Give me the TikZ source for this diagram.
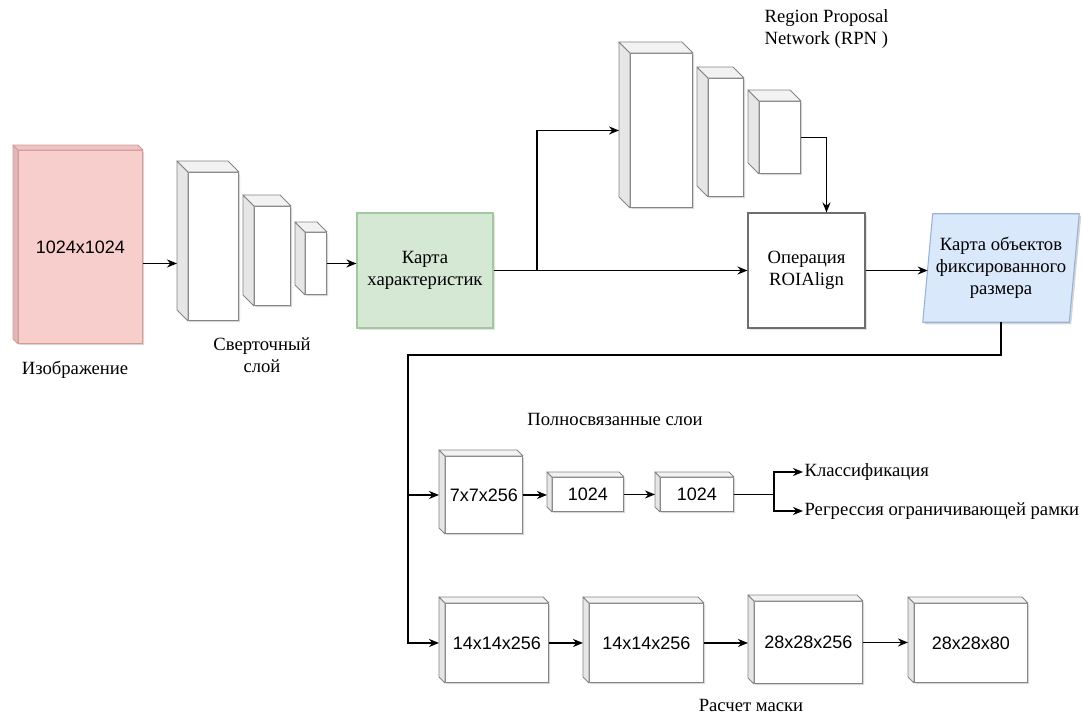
\documentclass[tikz,border=0pt]{standalone}
\usepackage{fontspec}
\setmainfont{Liberation Serif}
\newfontfamily\sansnum{Liberation Sans}
\usetikzlibrary{arrows.meta,shadows,calc,backgrounds}

\definecolor{pinkfill}{HTML}{F8CECC}
\definecolor{pinkline}{HTML}{D49A98}
\definecolor{pinkside}{HTML}{E2B8B6}
\definecolor{pinktop}{HTML}{EEC4C2}
\definecolor{greenfill}{HTML}{D5E8D4}
\definecolor{greenline}{HTML}{A3C89F}
\definecolor{bluefill}{HTML}{DAE8FC}
\definecolor{blueline}{HTML}{97B2D6}
\definecolor{cubeline}{HTML}{858585}
\definecolor{cubeside}{HTML}{E6E6E6}
\definecolor{cubetop}{HTML}{F2F2F2}
\definecolor{boxline}{HTML}{6E6E6E}

\tikzset{
  every node/.style={font=\fontsize{14}{16.5}\selectfont, inner sep=1pt},
  lbl/.style={align=center},
  arr/.style={-{Stealth[length=7.5pt,width=6pt]}, line width=1.35pt, black},
  wire/.style={line width=1.35pt, black},
  softshadow/.style={fill=black, opacity=0.16},
  whitefront/.style={draw=cubeline, fill=white, line width=0.7pt, inner sep=0pt,
    font=\sansnum\fontsize{13.5}{15.5}\selectfont},
  whiteside/.style={draw=cubeline, fill=cubeside, line width=0.7pt, line join=round},
  whitetop/.style={draw=cubeline, fill=cubetop, line width=0.7pt, line join=round},
  pinkfront/.style={draw=pinkline, fill=pinkfill, line width=0.7pt, inner sep=0pt,
    font=\sansnum\fontsize{13.5}{15.5}\selectfont},
  pinkside/.style={draw=pinkline, fill=pinkside, line width=0.7pt, line join=round},
  pinktop/.style={draw=pinkline, fill=pinktop, line width=0.7pt, line join=round},
  flatbox/.style={line width=0.8pt, align=center, inner sep=0pt,
    drop shadow={shadow xshift=1.6pt, shadow yshift=-1.6pt, opacity=0.22}},
}

% 3-D block: name, left, top, width, height, depth, colour set, label
\newcommand\cubeblock[8]{%
  \fill[softshadow] (#2+2,#3+2) -- (#2+#4-#6+2,#3+2) -- (#2+#4+2,#3+#6+2)
    -- (#2+#4+2,#3+#5+2) -- (#2+#6+2,#3+#5+2) -- (#2+2,#3+#5-#6+2) -- cycle;
  \node[#7front, minimum width={(#4-#6)*0.75pt}, minimum height={(#5-#6)*0.75pt},
    anchor=north west] (#1) at (#2+#6,#3+#6) {#8};
  \filldraw[#7side] (#1.north west) -- ++(-#6,-#6)
    -- ([shift={(-#6,-#6)}]#1.south west) -- (#1.south west) -- cycle;
  \filldraw[#7top] (#1.north west) -- ++(-#6,-#6)
    -- ([shift={(-#6,-#6)}]#1.north east) -- (#1.north east) -- cycle;
  \coordinate (#1W) at ([shift={(-#6,0)}]#1.west);
}

\begin{document}
\begin{tikzpicture}[x=0.75pt, y=-0.75pt]
\useasboundingbox (0,0) rectangle (1082,714);

% backbone
\cubeblock{img}{13}{145}{129}{198}{5}{pink}{1024x1024}
\cubeblock{conv1}{177}{161}{61}{159}{11}{white}{}
\cubeblock{conv2}{243}{195}{47}{110}{11}{white}{}
\cubeblock{conv3}{295}{222}{31}{72}{10}{white}{}

\node[lbl] (imglbl) at (75,370) {Изображение};
\node[lbl] (convlbl) at (262,355) {Сверточный\\слой};

\node[flatbox, draw=greenline, fill=greenfill, minimum width=136*0.75pt,
  minimum height=115*0.75pt] (feat) at (425,270.5) {Карта\\характеристик};

% region proposal network
\cubeblock{r1}{619}{42}{73}{165}{11}{white}{}
\cubeblock{r2}{697}{67}{46}{129}{11}{white}{}
\cubeblock{r3}{748}{90}{52}{83}{11}{white}{}
\node[align=left, anchor=west] (rpnlbl) at (763,29) {Region Proposal\\Network (RPN )};

\node[flatbox, draw=boxline, fill=white, minimum width=117*0.75pt,
  minimum height=115*0.75pt] (roi) at (806.5,270.5) {Операция\\ROIAlign};

% fixed-size feature map (parallelogram)
\node[minimum width=146*0.75pt, minimum height=108*0.75pt, align=center, inner sep=0pt]
  (fixmap) at (1001,268) {Карта объектов\\фиксированного\\размера};
\begin{scope}[on background layer]
  \fill[softshadow] ([shift={(7,2)}]fixmap.north west) -- ([shift={(7,2)}]fixmap.north east)
    -- ([shift={(-3,2)}]fixmap.south east) -- ([shift={(-3,2)}]fixmap.south west) -- cycle;
  \filldraw[draw=blueline, fill=bluefill, line width=0.8pt, line join=round]
    ([xshift=3.75pt]fixmap.north west) -- ([xshift=3.75pt]fixmap.north east)
    -- ([xshift=-3.75pt]fixmap.south east) -- ([xshift=-3.75pt]fixmap.south west) -- cycle;
\end{scope}

% box head
\node[lbl] (fclbl) at (615,419) {Полносвязанные слои};
\cubeblock{c7}{439}{450}{83}{83}{6}{white}{7x7x256}
\cubeblock{fc1}{547}{472}{76}{39}{5}{white}{1024}
\cubeblock{fc2}{655}{472}{78}{39}{5}{white}{1024}
\node[anchor=west, inner sep=1pt] (cls) at (803,472) {Классификация};
\node[anchor=west, inner sep=1pt] (reg) at (803,511) {Регрессия ограничивающей рамки};

% mask head
\cubeblock{b1}{439}{597}{109}{85}{6}{white}{14x14x256}
\cubeblock{b2}{583}{597}{120}{85}{6}{white}{14x14x256}
\cubeblock{b3}{748}{595}{114}{88}{6}{white}{28x28x256}
\cubeblock{b4}{908}{597}{119}{85}{6}{white}{28x28x80}
\node[lbl] (masklbl) at (751,705) {Расчет маски};

% connectors
\draw[arr] (img.east |- conv3.east) -- (conv1W |- conv3.east);
\draw[arr] (conv3.east) -- (conv3.east -| feat.west);
\coordinate (tap) at ($(feat.east |- roi.west)!0.1725!(roi.west)$);
\draw[arr] (feat.east |- roi.west) -- (roi.west);
\draw[arr] (tap) |- (r1W);
\draw[arr] (r3.east) -| ([xshift=15pt]roi.north);
\draw[arr] (roi.east) -- (roi.east -| fixmap.west);

\coordinate (bend) at (408,355);
\draw[arr] (fixmap.south) |- (bend) |- (b1W);
\draw[arr] (bend |- c7W) -- (c7W);
\draw[arr] (c7.east) -- (c7.east -| fc1W);
\draw[arr] (fc1.east) -- (fc1.east -| fc2W);
\coordinate (split) at ($(fc2.east)+(40,0)$);
\draw[wire] (fc2.east) -- (split);
\draw[arr] (split) |- (cls.west);
\draw[arr] (split) |- (reg.west);

\draw[arr] (b1.east) -- (b1.east -| b2W);
\draw[arr] (b2.east) -- (b2.east -| b3W);
\draw[arr] (b3.east) -- (b3.east -| b4W);
\end{tikzpicture}
\end{document}
